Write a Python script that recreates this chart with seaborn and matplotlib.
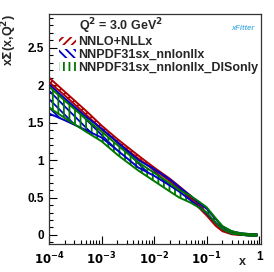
import matplotlib
matplotlib.use("Agg")
import matplotlib.pyplot as plt
import matplotlib.ticker as mticker
from matplotlib.patches import Patch
import numpy as np
import pandas as pd
import seaborn as sns

# x grid and band edges (x*Sigma at Q^2 = 3 GeV^2)
x_vals = [1e-4, 2e-4, 5e-4, 1e-3, 2e-3, 5e-3, 1e-2, 2e-2, 3e-2, 5e-2, 7e-2,
          0.1, 0.15, 0.2, 0.3, 0.4, 0.5, 0.7, 0.9]

red_hi = [2.10, 1.91, 1.66, 1.46, 1.28, 1.06, 0.90, 0.75, 0.65, 0.52, 0.41,
          0.29, 0.15, 0.07, 0.03, 0.02, 0.01, 0.01, 0.01]
red_lo = [2.04, 1.86, 1.61, 1.41, 1.24, 1.02, 0.87, 0.72, 0.62, 0.49, 0.37,
          0.26, 0.12, 0.05, 0.01, 0.00, 0.00, -0.01, -0.01]

blue_hi = [2.01, 1.82, 1.58, 1.42, 1.24, 1.00, 0.88, 0.74, 0.64, 0.52, 0.43,
           0.35, 0.21, 0.11, 0.05, 0.03, 0.02, 0.01, 0.01]
blue_lo = [1.62, 1.53, 1.40, 1.30, 1.13, 0.90, 0.79, 0.66, 0.58, 0.46, 0.38,
           0.29, 0.16, 0.08, 0.02, 0.01, 0.00, -0.01, -0.01]

green_hi = [1.98, 1.79, 1.55, 1.38, 1.20, 0.97, 0.83, 0.69, 0.60, 0.52, 0.45,
            0.37, 0.22, 0.12, 0.05, 0.03, 0.02, 0.01, 0.01]
green_lo = [1.70, 1.56, 1.38, 1.25, 1.07, 0.86, 0.72, 0.58, 0.50, 0.43, 0.37,
            0.30, 0.16, 0.08, 0.02, 0.01, 0.00, -0.01, -0.01]

scale_label = r"Q$^2$ = 3.0 GeV$^2$"
labels = ["NNLO+NLLx", "NNPDF31sx_nnlonllx", "NNPDF31sx_nnlonllx_DISonly"]
colors = ["#b00000", "#0000c8", "#007800"]
hatches = ["////", "\\\\\\\\", "|||"]

sns.set_theme(style="ticks")
plt.rcParams["font.family"] = ["Liberation Sans", "DejaVu Sans"]
plt.rcParams["font.weight"] = "bold"
plt.rcParams["hatch.linewidth"] = 1.3
plt.rcParams["mathtext.default"] = "bf"

df = pd.DataFrame({"x": x_vals,
                   "red_hi": red_hi, "red_lo": red_lo,
                   "blue_hi": blue_hi, "blue_lo": blue_lo,
                   "green_hi": green_hi, "green_lo": green_lo})

fig = plt.figure(figsize=(2.74, 2.72), dpi=100)
ax = fig.add_axes([0.179, 0.103, 0.774, 0.846])

for key, col, hat in zip(["red", "blue", "green"], colors, hatches):
    ax.fill_between(df["x"], df[f"{key}_lo"], df[f"{key}_hi"],
                    facecolor="none", edgecolor=col, hatch=hat, linewidth=0)
    sns.lineplot(data=df, x="x", y=f"{key}_hi", color=col, lw=1.4, ax=ax)
    sns.lineplot(data=df, x="x", y=f"{key}_lo", color=col, lw=1.4, ax=ax)

ax.set_xscale("log")
ax.set_xlim(1e-4, 1.09)
ax.set_ylim(-0.12, 2.95)
ax.set_xlabel("")
ax.set_ylabel("")

ax.yaxis.set_major_locator(mticker.MultipleLocator(0.5))
ax.yaxis.set_minor_locator(mticker.MultipleLocator(0.1))
ax.yaxis.set_major_formatter(mticker.FuncFormatter(lambda v, p: f"{v:g}"))
ax.xaxis.set_major_locator(mticker.LogLocator(base=10, numticks=10))
ax.xaxis.set_minor_locator(mticker.LogLocator(base=10, subs=np.arange(2, 10), numticks=10))
ax.xaxis.set_major_formatter(mticker.FuncFormatter(
    lambda v, p: "1" if abs(v - 1) < 1e-9 else r"$\mathbf{10^{%d}}$" % round(np.log10(v))))

ax.tick_params(axis="both", which="both", direction="in", colors="black",
               labelsize=8.5, width=0.8)
ax.tick_params(axis="both", which="major", length=6)
ax.tick_params(axis="both", which="minor", length=3)
ax.tick_params(axis="x", pad=5)
for s in ax.spines.values():
    s.set_linewidth(0.9)
    s.set_color("#333333")

fig.text(0.035, 0.95, r"x$\Sigma$(x,Q$^2$)", rotation=90, ha="center", va="top",
         fontsize=9, fontweight="bold")
fig.text(0.885, 0.015, "x", ha="center", va="bottom", fontsize=9, fontweight="bold")

# first legend row carries the scale label with an invisible handle
handles = [Patch(visible=False)] + [
    Patch(facecolor="none", edgecolor=c, hatch=h, linewidth=0)
    for c, h in zip(colors, hatches)]
leg = ax.legend(handles, [scale_label] + labels, loc="upper left",
                bbox_to_anchor=(0.045, 0.99),
                frameon=False, fontsize=9, handlelength=1.4, handleheight=0.7,
                handletextpad=0.2, labelspacing=0.05, borderaxespad=0,
                borderpad=0)
for t in leg.get_texts():
    t.set_fontweight("bold")

ax.text(0.915, 0.935, "xFitter", transform=ax.transAxes, fontsize=5.5,
        color="#5ab4e6", style="italic", ha="center", va="center")

fig.savefig("out.png", dpi=100)
